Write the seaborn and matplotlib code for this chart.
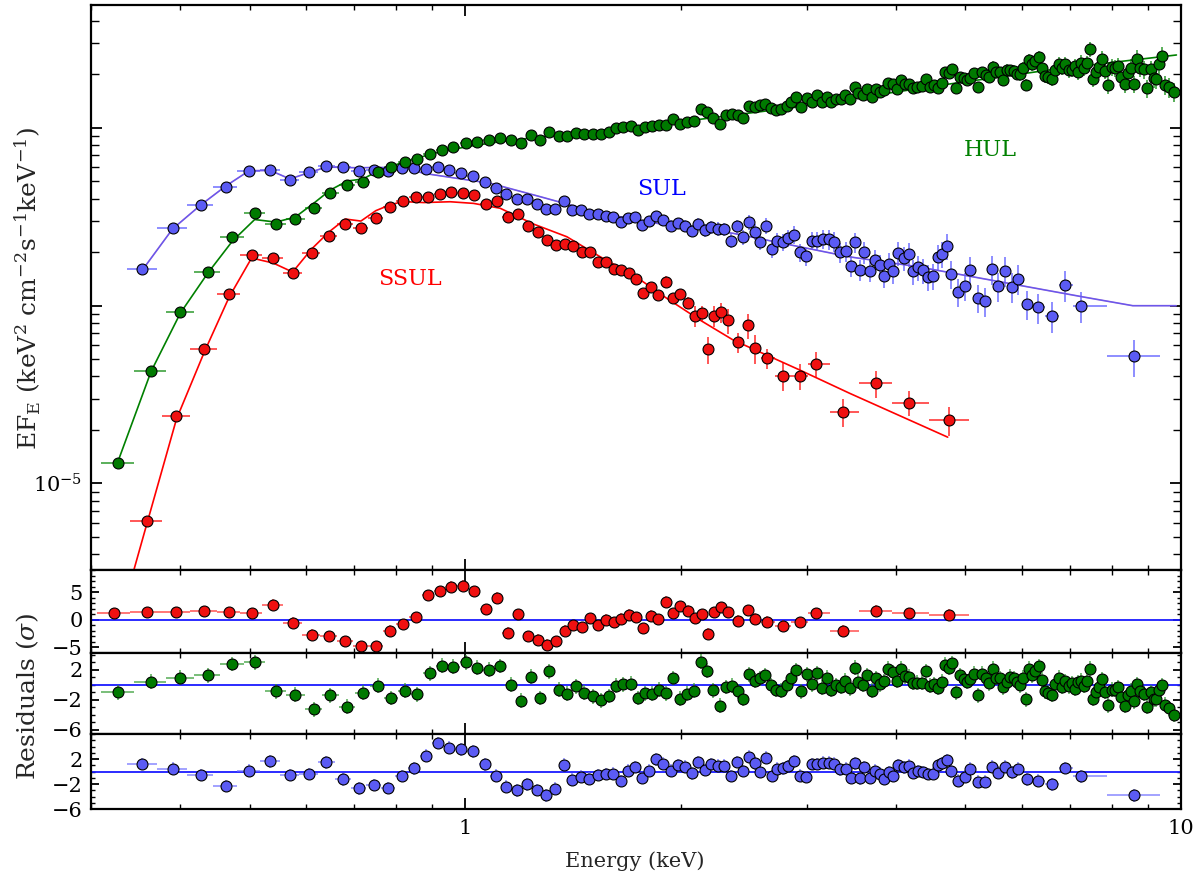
import numpy as np
import matplotlib
matplotlib.use("Agg")
import matplotlib.pyplot as plt
import seaborn as sns
from matplotlib.ticker import FixedLocator, FuncFormatter, LogLocator, NullFormatter, MultipleLocator

# ---------------- data (energies in keV, flux in units of 1e-5 keV^2 cm^-2 s^-1 keV^-1) ----------------
FLUX_UNIT = 1e-5

red_E = [0.323, 0.359, 0.395, 0.432, 0.468, 0.503, 0.539, 0.574, 0.610, 0.645, 0.680, 0.715, 0.750, 0.784,
         0.818, 0.853, 0.887, 0.921, 0.955, 0.993, 1.030, 1.070, 1.108, 1.146, 1.186, 1.223, 1.262, 1.300,
         1.340, 1.378, 1.416, 1.457, 1.496, 1.535, 1.575, 1.613, 1.651, 1.692, 1.733, 1.774, 1.818, 1.861,
         1.906, 1.950, 1.998, 2.050, 2.094, 2.140, 2.186, 2.228, 2.279, 2.331, 2.407, 2.486, 2.542, 2.637,
         2.779, 2.935, 3.094, 3.373, 3.746, 4.166, 4.737]
red_F = [0.14, 0.614, 2.39, 5.72, 11.62, 19.19, 18.6, 15.26, 19.85, 24.7, 28.7, 27.3, 31.1, 35.7, 38.8, 40.7,
         40.8, 42.3, 43.4, 43.0, 41.8, 37.5, 38.6, 31.5, 32.9, 28.0, 25.9, 23.4, 22.0, 22.2, 21.6, 19.95, 20.1,
         17.66, 17.5, 16.0, 15.8, 15.3, 14.1, 11.82, 12.72, 11.43, 13.63, 11.08, 11.57, 10.34, 8.77, 9.05,
         5.68, 8.77, 9.20, 8.27, 6.22, 7.75, 5.77, 5.05, 4.03, 4.03, 4.72, 2.53, 3.65, 2.84, 2.27]
red_relerr = [0.08, 0.05, 0.03, 0.03, 0.025, 0.025, 0.025, 0.025, 0.025, 0.02, 0.02, 0.02, 0.02, 0.02, 0.02,
              0.02, 0.02, 0.02, 0.02, 0.02, 0.02, 0.02, 0.022, 0.025, 0.025, 0.025, 0.027, 0.028, 0.03, 0.03,
              0.03, 0.032, 0.033, 0.035, 0.035, 0.037, 0.038, 0.04, 0.042, 0.045, 0.048, 0.05, 0.074, 0.065,
              0.065, 0.08, 0.14, 0.1, 0.17, 0.13, 0.13, 0.16, 0.13, 0.16, 0.19, 0.13, 0.18, 0.17, 0.16, 0.18,
              0.17, 0.16, 0.19]
red_res = [1.16, 1.34, 1.41, 1.52, 1.41, 1.16, 2.75, -0.55, -2.7, -3.0, -3.9, -4.8, -4.8, -1.96, -0.79, 0.42,
           4.46, 5.19, 6.06, 6.24, 5.19, 1.96, 3.98, -2.33, 0.97, -2.99, -3.67, -4.53, -3.91, -2.02, -0.97,
           -1.34, 0.31, -0.97, 0.0, -0.42, 0.18, 0.92, 0.42, -1.52, 0.73, 0.06, 3.25, 1.16, 2.44, 1.65, 0.31,
           1.05, -2.57, 1.41, 2.33, 1.34, -0.18, 1.78, 0.18, -0.37, -1.1, -0.42, 1.23, -2.02, 1.65, 1.23, 0.92]
red_model_E = [0.323, 0.359, 0.395, 0.432, 0.468, 0.503, 0.539, 0.574, 0.610, 0.645, 0.680, 0.715, 0.750,
               0.784, 0.818, 0.875, 0.953, 1.027, 1.119, 1.245, 1.387, 1.543, 1.718, 1.912, 2.128, 2.369,
               2.637, 2.935, 3.446, 4.722]
red_model_F = [0.13, 0.59, 2.30, 5.48, 11.18, 18.53, 17.37, 15.45, 20.8, 25.95, 30.7, 29.9, 34.2, 36.8, 38.5,
               38.0, 38.4, 37.6, 35.3, 28.8, 24.4, 18.85, 14.87, 11.0, 8.30, 6.40, 5.27, 4.34, 3.21, 1.82]

green_E = [0.327, 0.364, 0.400, 0.437, 0.473, 0.508, 0.544, 0.579, 0.615, 0.648,
           0.684, 0.720, 0.755, 0.788, 0.823, 0.856, 0.893, 0.927, 0.963, 1.002,
           1.040, 1.079, 1.118, 1.157, 1.196, 1.235, 1.274, 1.311, 1.352, 1.389,
           1.428, 1.467, 1.507, 1.547, 1.587, 1.624, 1.664, 1.703, 1.742, 1.783,
           1.824, 1.866, 1.909, 1.953, 1.998, 2.043, 2.088, 2.133, 2.177, 2.222,
           2.267, 2.311, 2.358, 2.403, 2.443, 2.491, 2.539, 2.578, 2.625, 2.671,
           2.717, 2.761, 2.812, 2.851, 2.897, 2.947, 3.001, 3.050, 3.099, 3.149,
           3.200, 3.249, 3.302, 3.348, 3.399, 3.446, 3.502, 3.544, 3.597, 3.648,
           3.698, 3.750, 3.799, 3.853, 3.903, 3.957, 4.008, 4.070, 4.122, 4.175,
           4.229, 4.283, 4.343, 4.404, 4.461, 4.519, 4.573, 4.632, 4.677, 4.738,
           4.795, 4.856, 4.908, 4.971, 5.023, 5.079, 5.145, 5.212, 5.272, 5.334,
           5.386, 5.456, 5.521, 5.580, 5.646, 5.712, 5.774, 5.836, 5.898, 5.956,
           6.014, 6.072, 6.125, 6.190, 6.263, 6.330, 6.406, 6.462, 6.531, 6.601,
           6.679, 6.750, 6.825, 6.898, 6.966, 7.039, 7.108, 7.178, 7.256, 7.326,
           7.396, 7.468, 7.548, 7.621, 7.695, 7.769, 7.843, 7.919, 8.004, 8.081,
           8.169, 8.256, 8.345, 8.436, 8.518, 8.601, 8.685, 8.778, 8.872, 8.980,
           9.075, 9.163, 9.235, 9.312, 9.403, 9.494, 9.627, 9.792]
green_F = [1.296, 4.28, 9.17, 15.45, 24.4, 33.0, 28.7, 30.7, 35.5, 43.2,
           47.7, 49.9, 56.6, 60.6, 64.5, 66.6, 71.0, 75.1, 78.1, 81.9,
           83.3, 85.1, 88.0, 85.1, 82.2, 90.8, 85.4, 94.4, 89.7, 90.4,
           93.2, 92.4, 92.0, 92.0, 94.4, 99.4, 101.1, 102.4, 97.7, 101.1,
           102.0, 103.8, 103.8, 112.6, 104.7, 107.5, 109.7, 127.7, 123.3, 114.1,
           105.6, 117.7, 120.2, 117.7, 113.2, 133.3, 131.1, 134.0, 136.8, 129.4,
           126.1, 128.2, 133.3, 139.8, 148.6, 131.1, 147.8, 140.4, 153.1, 140.4,
           149.8, 140.4, 145.4, 145.4, 152.5, 145.4, 170.5, 157.1, 153.7, 164.8,
           148.6, 164.8, 158.6, 162.7, 179.6, 177.3, 165.5, 185.2, 175.9, 175.9,
           168.3, 170.5, 172.0, 189.1, 169.8, 175.0, 168.3, 179.6, 207.1, 204.4,
           213.6, 167.0, 194.1, 190.1, 185.9, 191.6, 203.6, 169.8, 207.1, 199.2,
           192.6, 220.9, 206.2, 205.4, 185.9, 212.5, 210.9, 208.9, 201.0, 200.2,
           216.3, 175.0, 241.0, 227.9, 237.8, 249.5, 216.3, 195.1, 194.1, 188.4,
           211.7, 228.8, 218.1, 227.9, 211.7, 212.5, 223.8, 207.1, 232.7, 216.3,
           230.9, 276.8, 189.1, 207.1, 219.2, 245.1, 209.7, 173.6, 219.2, 218.1,
           222.9, 194.1, 176.6, 202.8, 218.1, 176.6, 245.1, 218.1, 213.6, 167.0,
           213.6, 191.6, 187.7, 228.8, 253.8, 174.3, 169.2, 159.2]
green_relerr = [0.03, 0.025, 0.02, 0.02, 0.02, 0.02, 0.02, 0.02, 0.02, 0.02,
                0.02, 0.02, 0.02, 0.02, 0.02, 0.02, 0.02, 0.02, 0.02, 0.02,
                0.02, 0.02, 0.02, 0.021, 0.021, 0.022, 0.022, 0.023, 0.023, 0.024,
                0.024, 0.024, 0.025, 0.025, 0.025, 0.026, 0.026, 0.026, 0.027, 0.027,
                0.027, 0.028, 0.028, 0.028, 0.029, 0.029, 0.03, 0.03, 0.03, 0.031,
                0.031, 0.031, 0.032, 0.032, 0.033, 0.033, 0.033, 0.034, 0.034, 0.035,
                0.035, 0.035, 0.036, 0.036, 0.037, 0.037, 0.038, 0.038, 0.039, 0.039,
                0.04, 0.04, 0.041, 0.041, 0.042, 0.042, 0.043, 0.043, 0.044, 0.044,
                0.045, 0.045, 0.046, 0.046, 0.047, 0.047, 0.048, 0.048, 0.049, 0.05,
                0.05, 0.051, 0.052, 0.053, 0.054, 0.055, 0.056, 0.057, 0.058, 0.059,
                0.06, 0.061, 0.062, 0.063, 0.064, 0.065, 0.066, 0.067, 0.068, 0.069,
                0.07, 0.071, 0.072, 0.073, 0.074, 0.075, 0.076, 0.077, 0.078, 0.079,
                0.08, 0.081, 0.082, 0.083, 0.084, 0.085, 0.086, 0.087, 0.088, 0.089,
                0.09, 0.091, 0.092, 0.093, 0.094, 0.095, 0.096, 0.097, 0.098, 0.099,
                0.1, 0.101, 0.102, 0.103, 0.104, 0.105, 0.106, 0.107, 0.108, 0.109,
                0.11, 0.111, 0.112, 0.113, 0.114, 0.115, 0.116, 0.117, 0.118, 0.119,
                0.12, 0.121, 0.122, 0.123, 0.124, 0.125, 0.126, 0.127]
green_res = [-0.99, 0.39, 0.96, 1.26, 2.78, 2.99, -0.86, -1.34, -3.29, -1.43,
             -2.94, -1.08, -0.13, -1.77, -0.78, -1.3, 1.52, 2.56, 2.43, 3.04,
             2.3, 2.04, 2.52, 0.0, -2.12, 1.09, -1.77, 1.78, -0.65, -1.21,
             -0.21, -1.04, -1.56, -2.08, -1.51, -0.13, 0.05, 0.13, -1.77, -1.17,
             -1.21, -0.69, -1.12, 0.91, -1.9, -1.21, -0.82, 3.12, 1.91, -0.73,
             -2.81, -0.3, -0.13, -0.86, -1.86, 1.43, 0.52, 0.87, 1.26, -0.08,
             -0.65, -0.82, -0.04, 0.87, 1.95, -0.86, 1.43, 0.09, 1.56, -0.39,
             0.96, -0.65, -0.04, -0.3, 0.52, -0.47, 2.26, 0.39, 0.0, 1.26,
             -0.78, 0.87, 0.09, 0.44, 2.13, 1.69, 0.52, 2.13, 1.17, 1.09,
             0.26, 0.26, 0.26, 1.82, -0.13, 0.09, -0.43, 0.39, 2.69, 2.26,
             2.86, -0.99, 1.26, 0.83, 0.39, 0.74, 1.48, -1.43, 1.48, 0.87,
             0.22, 2.13, 0.96, 0.91, -0.34, 0.31, 1.09, 0.91, 0.39, -0.04,
             0.96, -1.95, 2.16, 1.3, 1.91, 2.52, 0.65, -0.86, -1.08, -1.34,
             0.09, 0.96, -0.3, 0.48, -0.21, 0.22, -0.56, 0.31, 0.52, -0.13,
             0.52, 2.13, -1.9, -0.91, -0.34, 0.74, -0.91, -2.73, -0.69, -0.69,
             -0.34, -1.64, -2.81, -1.43, -0.78, -2.21, 0.09, -0.78, -1.21, -2.94,
             -0.99, -1.95, -1.95, -0.65, -0.04, -2.65, -3.17, -4.04]
green_model_E = [0.327, 0.364, 0.400, 0.437, 0.473, 0.508, 0.544, 0.579, 0.615, 0.648, 0.684, 0.720, 0.755,
                 0.811, 0.903, 1.006, 1.119, 1.245, 1.387, 1.543, 1.718, 1.912, 2.128, 2.369, 2.637, 2.935,
                 3.446, 4.646, 6.553, 8.128, 9.856]
green_model_F = [1.318, 4.26, 9.08, 15.26, 23.1, 30.5, 29.5, 31.5, 37.8, 44.7, 50.2, 51.6, 57.2, 63.2, 71.9,
                 78.4, 83.6, 88.0, 92.0, 96.0, 101.5, 106.1, 111.7, 118.1, 124.5, 131.6, 145.4, 174.3, 211.7,
                 234.9, 257.0]

blue_E = [0.354, 0.390, 0.427, 0.463, 0.499, 0.534, 0.569, 0.605, 0.640, 0.675,
          0.710, 0.745, 0.779, 0.815, 0.848, 0.882, 0.916, 0.950, 0.987, 1.027,
          1.065, 1.103, 1.142, 1.181, 1.219, 1.259, 1.297, 1.335, 1.375, 1.412,
          1.451, 1.491, 1.532, 1.572, 1.611, 1.650, 1.689, 1.727, 1.768, 1.808,
          1.849, 1.891, 1.939, 1.983, 2.028, 2.072, 2.117, 2.161, 2.205, 2.253,
          2.299, 2.349, 2.397, 2.441, 2.489, 2.538, 2.585, 2.631, 2.682, 2.729,
          2.777, 2.827, 2.882, 2.938, 2.995, 3.048, 3.105, 3.162, 3.219, 3.276,
          3.338, 3.400, 3.457, 3.505, 3.556, 3.609, 3.672, 3.732, 3.793, 3.849,
          3.908, 3.962, 4.026, 4.101, 4.171, 4.230, 4.293, 4.362, 4.428, 4.504,
          4.572, 4.642, 4.707, 4.779, 4.877, 4.987, 5.079, 5.200, 5.331, 5.452,
          5.558, 5.672, 5.801, 5.928, 6.093, 6.305, 6.601, 6.898, 7.256, 8.587]
blue_F = [16.02, 27.2, 36.9, 46.3, 57.4, 58.3, 50.9, 56.2, 61.2, 60.4,
          57.1, 57.8, 57.4, 59.1, 59.6, 58.9, 60.2, 57.9, 55.9, 53.8,
          49.6, 45.7, 42.3, 39.8, 39.6, 37.3, 35.0, 35.0, 38.6, 34.4,
          34.4, 32.8, 32.9, 32.0, 31.6, 29.4, 31.1, 31.4, 28.4, 30.0,
          31.8, 30.3, 28.2, 29.0, 28.2, 26.3, 28.8, 26.5, 27.7, 27.1,
          26.9, 23.1, 27.9, 24.2, 29.4, 26.1, 22.9, 28.1, 20.8, 23.1,
          22.7, 24.0, 25.1, 19.95, 18.9, 23.2, 23.1, 23.7, 23.6, 22.9,
          19.9, 20.3, 16.7, 22.7, 15.9, 19.95, 15.7, 18.1, 16.9, 14.7,
          17.2, 15.6, 19.8, 18.6, 19.5, 15.6, 16.4, 15.8, 14.5, 14.7,
          18.8, 19.6, 21.7, 15.1, 11.97, 12.9, 15.9, 11.1, 10.6, 16.1,
          12.9, 15.7, 12.8, 14.2, 10.2, 9.78, 8.74, 13.1, 9.99, 5.20]
blue_relerr = [0.025, 0.02, 0.02, 0.02, 0.02, 0.02, 0.02, 0.02, 0.02, 0.02,
               0.02, 0.02, 0.02, 0.02, 0.02, 0.02, 0.02, 0.02, 0.02, 0.02,
               0.03, 0.03, 0.032, 0.034, 0.036, 0.038, 0.04, 0.042, 0.044, 0.046,
               0.048, 0.05, 0.052, 0.054, 0.056, 0.058, 0.06, 0.062, 0.064, 0.066,
               0.068, 0.07, 0.072, 0.074, 0.076, 0.078, 0.08, 0.082, 0.084, 0.086,
               0.088, 0.09, 0.092, 0.094, 0.096, 0.098, 0.1, 0.102, 0.104, 0.106,
               0.108, 0.11, 0.112, 0.114, 0.116, 0.118, 0.12, 0.122, 0.124, 0.126,
               0.128, 0.13, 0.132, 0.134, 0.136, 0.138, 0.14, 0.142, 0.144, 0.146,
               0.148, 0.15, 0.152, 0.154, 0.156, 0.158, 0.16, 0.162, 0.164, 0.166,
               0.168, 0.17, 0.172, 0.174, 0.176, 0.178, 0.18, 0.182, 0.184, 0.186,
               0.188, 0.19, 0.19, 0.19, 0.19, 0.19, 0.2, 0.2, 0.2, 0.24]
blue_res = [1.23, 0.48, -0.53, -2.28, 0.16, 1.66, -0.53, -0.41, 1.5, -1.21,
            -2.65, -2.12, -2.6, -0.69, 0.54, 2.55, 4.53, 3.82, 3.57, 3.25,
            1.18, -0.64, -2.39, -2.96, -2.01, -2.92, -3.76, -2.71, 1.12, -1.27,
            -0.8, -1.12, -0.53, -0.37, -0.32, -1.48, 0.16, 0.75, -1.0, 0.16,
            1.98, 1.27, 0.16, 1.07, 0.8, -0.26, 1.5, 0.27, 1.23, 0.96,
            0.96, -0.69, 1.55, 0.11, 2.39, 1.34, -0.05, 2.23, -0.69, 0.48,
            0.54, 0.91, 1.66, -0.64, -0.84, 1.23, 1.23, 1.43, 1.43, 1.27,
            0.38, 0.48, -0.96, 1.34, -1.05, 0.7, -0.96, 0.16, -0.32, -1.12,
            -0.05, -0.64, 1.07, 0.7, 0.96, -0.16, 0.11, -0.05, -0.41, -0.32,
            1.07, 1.39, 1.86, 0.06, -1.43, -0.8, 0.48, -1.59, -1.59, 0.8,
            -0.16, 0.8, -0.1, 0.48, -1.21, -1.43, -2.01, 0.59, -0.73, -3.76]
blue_model_E = [0.354, 0.390, 0.427, 0.463, 0.499, 0.534, 0.569, 0.605, 0.640, 0.675, 0.710, 0.745, 0.779,
                0.813, 0.875, 0.974, 1.084, 1.273, 1.543, 1.912, 2.369, 3.446, 4.270, 7.293, 8.566, 9.847]
blue_model_F = [15.86, 26.98, 36.8, 47.1, 57.4, 57.6, 51.6, 56.0, 60.2, 59.9, 59.6, 59.9, 59.8, 60.5, 55.5,
                52.0, 48.8, 41.0, 33.1, 28.4, 25.5, 18.8, 16.6, 11.2, 9.99, 9.99]

labels = ["SSUL", "SUL", "HUL"]

# ---------------- style ----------------
sns.set_theme(style="ticks")
plt.rcParams.update({
    "font.family": ["DejaVu Serif"],
    "mathtext.fontset": "dejavuserif",
    "axes.linewidth": 1.6,
    "axes.edgecolor": "black",
    "xtick.direction": "in",
    "ytick.direction": "in",
    "xtick.top": True,
    "ytick.right": True,
    "xtick.color": "black",
    "ytick.color": "black",
    "axes.unicode_minus": True,
})

fig = plt.figure(figsize=(12, 8.76), dpi=100)
L, W = 0.0758, 0.9083
ax = fig.add_axes([L, 0.34886, W, 0.64578])
ax_r = fig.add_axes([L, 0.25491, W, 0.09395])
ax_g = fig.add_axes([L, 0.16210, W, 0.09281])
ax_b = fig.add_axes([L, 0.07614, W, 0.08596])


def bin_edges(E):
    lg = np.log10(np.asarray(E, dtype=float))
    mid = (lg[:-1] + lg[1:]) / 2
    lo = np.concatenate([[2 * lg[0] - mid[0]], mid])
    hi = np.concatenate([mid, [2 * lg[-1] - mid[-1]]])
    return 10 ** lo, 10 ** hi


series = [
    # name, E, F, relerr, res, modelE, modelF, face, bar, line, resax
    ("blue", blue_E, blue_F, blue_relerr, blue_res, blue_model_E, blue_model_F, "#5b5bf4", "#6f6fff", "#8a5fd6", ax_b),
    ("green", green_E, green_F, green_relerr, green_res, green_model_E, green_model_F, "#007a00", "#2f9a2f", "#008000", ax_g),
    ("red", red_E, red_F, red_relerr, red_res, red_model_E, red_model_F, "#f01010", "#ff2a2a", "#ff0000", ax_r),
]

for name, E, F, rel, res, mE, mF, face, bar, line, rax in series:
    E = np.asarray(E)
    F = np.asarray(F) * FLUX_UNIT
    lo, hi = bin_edges(E)
    xerr = [E - lo, hi - E]
    ax.errorbar(E, F, xerr=xerr, yerr=F * np.asarray(rel), fmt="none", ecolor=bar,
                elinewidth=1.3, capsize=0, alpha=0.85, zorder=2)
    sns.lineplot(x=np.asarray(mE), y=np.asarray(mF) * FLUX_UNIT, ax=ax, color=line, lw=1.2,
                 sort=False, estimator=None, zorder=3)
    if name == "blue":
        sns.lineplot(x=np.asarray(mE), y=np.asarray(mF) * FLUX_UNIT, ax=ax, color="#5050ff", lw=0.8,
                     sort=False, estimator=None, zorder=3, alpha=0.6)
    sns.scatterplot(x=E, y=F, ax=ax, color=face, edgecolor="black", linewidth=0.8, s=62,
                    zorder=5, legend=False, clip_on=True)

    # residual panel
    R = np.asarray(res)
    rax.axhline(0, color="#1a1aff", lw=1.3, zorder=1)
    rax.errorbar(E, R, xerr=xerr, yerr=np.ones_like(R), fmt="none", ecolor=bar, elinewidth=1.2,
                 capsize=0, alpha=0.75, zorder=2)
    sns.scatterplot(x=E, y=R, ax=rax, color=face, edgecolor="black", linewidth=0.8, s=62,
                    zorder=5, legend=False)

# ---------------- axes formatting ----------------
for a in (ax, ax_r, ax_g, ax_b):
    a.set_xscale("log")
    a.set_xlim(0.3, 10)
    a.xaxis.set_major_locator(FixedLocator([1, 10]))
    a.xaxis.set_minor_locator(LogLocator(base=10, subs=np.arange(2, 10)))
    a.xaxis.set_minor_formatter(NullFormatter())
    a.tick_params(axis="x", which="major", length=8, width=1.3, pad=7, labelsize=15)
    a.tick_params(axis="x", which="minor", length=3.5, width=1.0)
    a.set_xlabel("")
    a.set_ylabel("")
    for s in a.spines.values():
        s.set_linewidth(1.6)

for a in (ax, ax_r, ax_g):
    a.tick_params(axis="x", labelbottom=False)
ax_b.xaxis.set_major_formatter(FuncFormatter(lambda v, p: "%d" % round(v)))

# top panel y axis
ax.set_yscale("log")
ax.set_ylim(3.24e-6, 4.93e-3)
ax.yaxis.set_major_locator(FixedLocator([1e-5, 1e-4, 1e-3]))
ax.yaxis.set_major_formatter(FuncFormatter(lambda v, p: r"$10^{-5}$" if abs(v - 1e-5) < 1e-9 else ""))
ax.yaxis.set_minor_locator(LogLocator(base=10, subs=np.arange(2, 10)))
ax.yaxis.set_minor_formatter(NullFormatter())
ax.tick_params(axis="y", which="major", length=8, width=1.3, pad=6, labelsize=15)
ax.tick_params(axis="y", which="minor", length=5.5, width=1.0)

# residual panels
res_cfg = [(ax_r, (-6, 9), [-5, 0, 5]), (ax_g, (-6.6, 4.3), [-6, -2, 2]), (ax_b, (-6, 6), [-6, -2, 2])]
for a, lim, ticks in res_cfg:
    a.set_ylim(*lim)
    a.yaxis.set_major_locator(FixedLocator(ticks))
    a.yaxis.set_minor_locator(MultipleLocator(1))
    a.tick_params(axis="y", which="major", length=6, width=1.3, pad=6, labelsize=15)
    a.tick_params(axis="y", which="minor", length=3, width=1.0)

# annotations
ax.text(0.2927, 0.5151, labels[0], transform=ax.transAxes, color="#ff0000", fontsize=16,
        ha="center", va="center")
ax.text(0.5236, 0.6747, labels[1], transform=ax.transAxes, color="#0000ff", fontsize=16,
        ha="center", va="center")
ax.text(0.8255, 0.7432, labels[2], transform=ax.transAxes, color="#008000", fontsize=16,
        ha="center", va="center")

fig.text(28 / 1200, 1 - 288 / 876,
         r"EF$_{\mathrm{E}}$ (keV$^{2}$ cm$^{\mathrm{-2}}$s$^{\mathrm{-1}}$keV$^{\mathrm{-1}}$)",
         rotation=90, ha="center", va="center", fontsize=18)
fig.text(28 / 1200, 1 - 697 / 876, r"Residuals ($\sigma$)", rotation=90, ha="center", va="center",
         fontsize=18)
fig.text(635 / 1200, 1 - 861 / 876, "Energy (keV)", ha="center", va="center", fontsize=15)

fig.savefig("out.png", dpi=100, facecolor="white")
